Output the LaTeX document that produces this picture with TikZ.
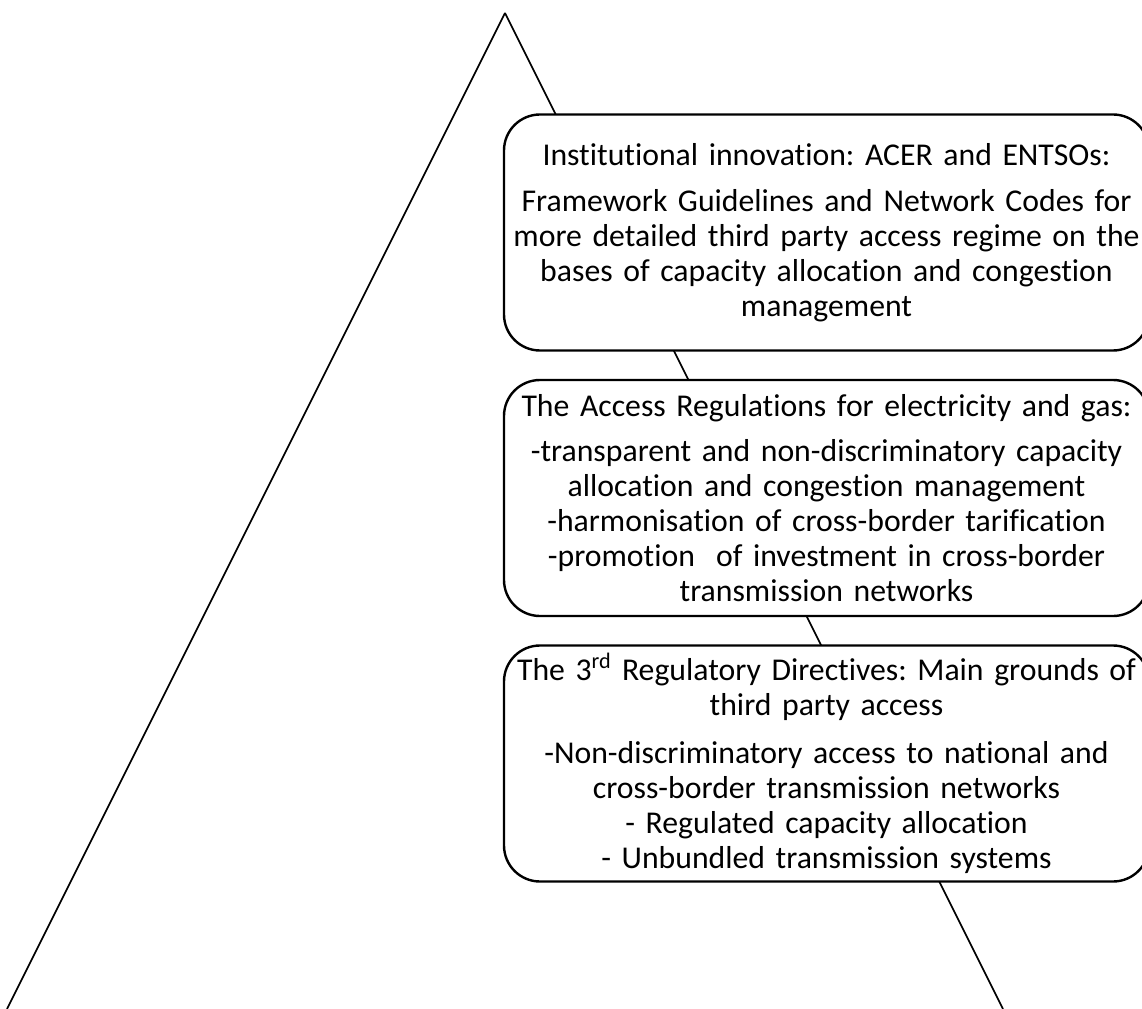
\documentclass[tikz,border=0pt]{standalone}
\usepackage{fontspec}
\setmainfont{Carlito}[Ligatures=NoCommon]
\usepackage{tikz}
\frenchspacing

\begin{document}
\begin{tikzpicture}[x=0.75pt,y=-0.75pt,
    caja/.style={rectangle,rounded corners=27pt,draw,line width=1.8pt,fill=white,
      minimum width=483.75pt,minimum height=177pt,text width=476pt,inner xsep=2pt,
      align=center,font=\fontsize{23.8}{26.25}\selectfont}]
        \useasboundingbox (0,0) rectangle (1142,1009);
        % Triángulo
            \coordinate (cima) at (505,13);
            \coordinate (izq) at (7,1009);
            \coordinate (der) at (1003,1009);
            \draw[line width=1.2pt] (cima) -- (izq);
            \draw[line width=1.2pt] (cima) -- (der);

            % Cajas con coordenadas específicas
            \node[caja] (acer) at (826.5,232.5) {Institutional innovation: ACER and ENTSOs:\\[8pt]
                Framework Guidelines and Network Codes for\\
                more detailed third party access regime on the\\
                bases of capacity allocation and congestion\\
                management};
            \node[caja] (regl) at (826.5,498) {The Access Regulations for electricity and gas:\\[8pt]
                -transparent and non-discriminatory capacity\\
                allocation and congestion management\\
                -harmonisation of cross-border tarification\\
                -promotion \ of investment in cross-border\\
                transmission networks};
            \node[caja] (dir) at (826.5,763.5) {The 3\textsuperscript{rd} Regulatory Directives: Main grounds of\\
                third party access\\[10pt]
                -Non-discriminatory access to national and\\
                cross-border transmission networks\\
                - Regulated capacity allocation\\
                - Unbundled transmission systems};
        \end{tikzpicture}
\end{document}
